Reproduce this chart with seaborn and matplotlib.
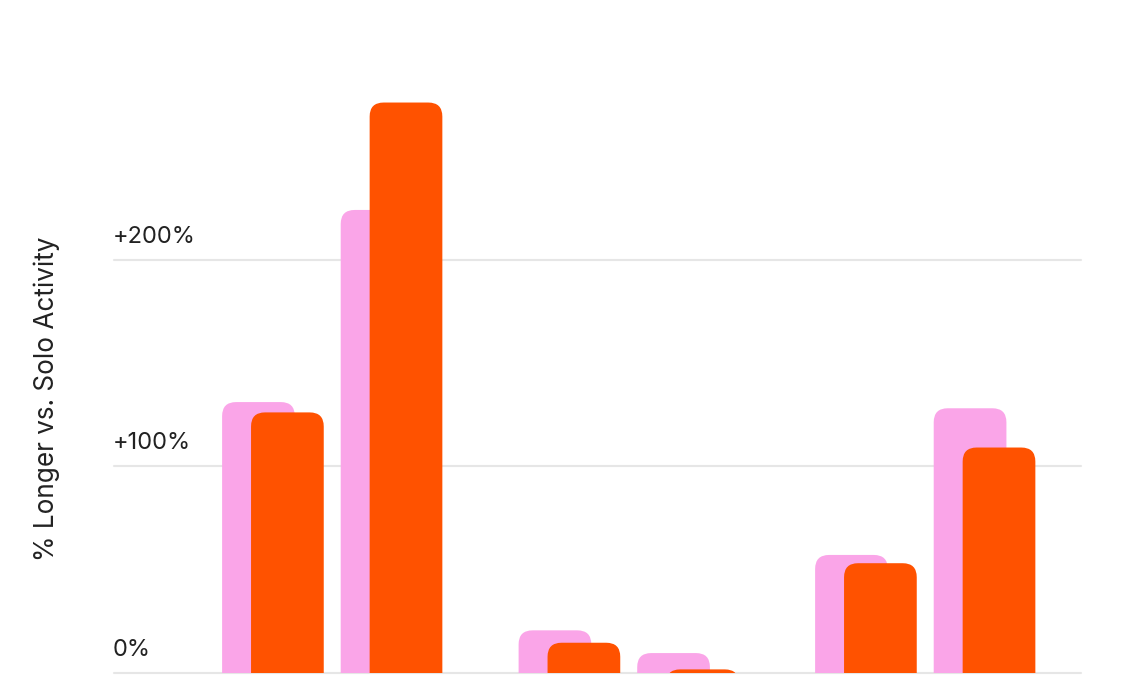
import pandas as pd
import seaborn as sns
import matplotlib.pyplot as plt
from matplotlib.patches import FancyBboxPatch
from matplotlib import transforms

# data (% longer vs. solo activity)
groups = ["Group 1", "Group 1", "Group 2", "Group 2", "Group 3", "Group 3"]
items = ["1a", "1b", "2a", "2b", "3a", "3b"]
pink_vals = [131, 224, 20.5, 9.5, 57, 128]
orange_vals = [126, 276, 14.5, 1.6, 53, 109]
tick_vals = [0, 100, 200]
tick_labels = ["0%", "+100%", "+200%"]

PINK = "#FAA5E8"
ORANGE = "#FF5200"
GRID = "#E6E6E6"

sns.set_style("white")
plt.rcParams["font.family"] = ["Inter", "DejaVu Sans"]

# layout: 2 bars per group, wider gap between groups
group_idx = pd.Series(groups).factorize()[0]
within = [i - 2 * g for i, g in enumerate(group_idx)]
pos = [w + 2.5 * g for w, g in zip(within, group_idx)]
shift = 0.244
width = 0.613

df = pd.DataFrame({"item": items, "group": groups, "pos": pos,
                   "pink": pink_vals, "orange": orange_vals})
df["pos_pink"] = df["pos"] - shift

fig = plt.figure(figsize=(11.4, 6.94), dpi=100)
ax = fig.add_axes([0.1, 0.0307, 0.848, 0.893])

sns.barplot(data=df, x="pos_pink", y="pink", native_scale=True, width=width,
            color=PINK, saturation=1, ax=ax)
sns.barplot(data=df, x="pos", y="orange", native_scale=True, width=width,
            color=ORANGE, saturation=1, ax=ax)

ax.set_xlim(-1.462, 6.689)
ax.set_ylim(0, 300)

# rounded top corners: replace the plain bars
fig.canvas.draw()
px_x = ax.transData.transform([(1, 0)])[0][0] - ax.transData.transform([(0, 0)])[0][0]
px_y = ax.transData.transform([(0, 1)])[0][1] - ax.transData.transform([(0, 0)])[0][1]
radius = 14
r_x = radius / px_x
r_y = radius / px_y
aspect = px_x / px_y

bars = list(ax.patches)
for z, p in enumerate(bars):
    x, w, h = p.get_x(), p.get_width(), p.get_height()
    fc = p.get_facecolor()
    p.remove()
    ax.add_patch(FancyBboxPatch((x, -r_y), w, h + r_y,
                                boxstyle=f"round,pad=0,rounding_size={r_x}",
                                mutation_aspect=aspect, fc=fc, ec="none",
                                zorder=2 + z * 0.01))

# grid lines and labels sitting above them
for v, lab in zip(tick_vals, tick_labels):
    ax.axhline(v, color=GRID, lw=1.5, zorder=1, clip_on=False)
    off = transforms.offset_copy(ax.get_yaxis_transform(), fig=fig, x=-1, y=12, units="dots")
    ax.text(0, v, lab, transform=off, ha="left", va="bottom",
            fontsize=17, color="#222222")

ax.set_xticks([])
ax.set_yticks([])
ax.set_xlabel("")
ax.set_ylabel("")
sns.despine(ax=ax, left=True, bottom=True)

fig.text(47 / 1140, 0.425, "% Longer vs. Solo Activity", rotation=90,
         ha="center", va="center", fontsize=18.8, color="#222222")

fig.savefig("out.png", dpi=100)
